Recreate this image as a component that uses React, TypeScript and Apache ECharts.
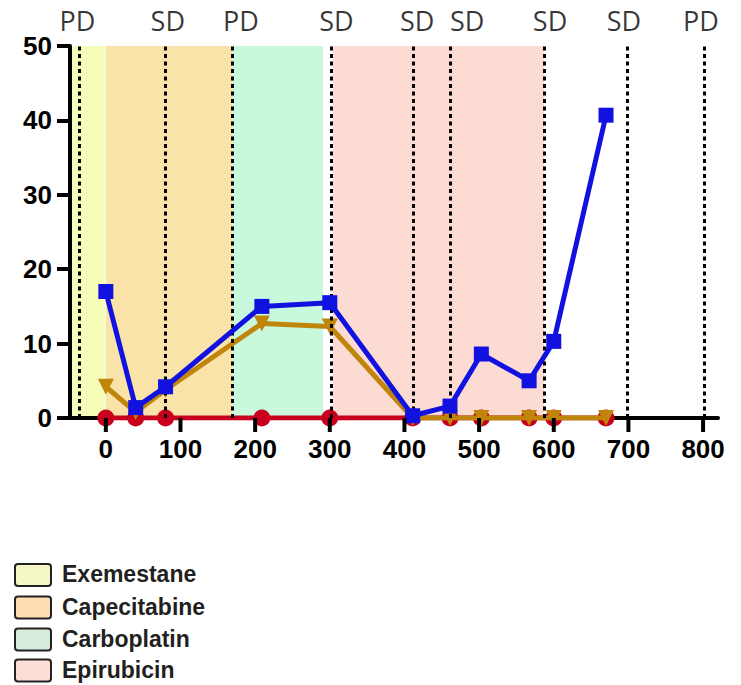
import React, { useEffect, useRef } from "react";
import * as echarts from "echarts";

const days = [0, 40, 80, 209, 300, 411, 461, 503, 567, 600, 670];
const blueValues = [17, 1.4, 4.2, 15, 15.5, 0.3, 1.6, 8.6, 5, 10.3, 40.7];
const goldValues = [4.2, 0.8, 3.8, 12.7, 12.3, 0, 0, 0, 0, 0, 0];
const redValues = [0, 0, 0, 0, 0, 0, 0, 0, 0, 0, 0];

const eventDays = [-35, 80, 170, 302, 412, 462, 587, 699, 801];
const eventNames = ["PD", "SD", "PD", "SD", "SD", "SD", "SD", "SD", "PD"];
const eventLabelDays = [-38, 83, 181, 309, 417, 484, 595, 694, 797];

const treatments = ["Exemestane", "Capecitabine", "Carboplatin", "Epirubicin"];
const treatmentStart = [-48, 0, 170, 304];
const treatmentEnd = [-0.8, 170, 291, 587];
const bandColors = ["#F6FDB9", "#F9E3A8", "#C8F9DC", "#FBDBD2"];
const legendColors = ["#F5F7C6", "#FEDDB4", "#D6EBDC", "#FDDDD8"];

const xTicks = [0, 100, 200, 300, 400, 500, 600, 700, 800];

export default function App() {
  const ref = useRef<HTMLDivElement>(null);
  useEffect(() => {
    if (!ref.current) return;
    const chart = echarts.init(ref.current, undefined, { renderer: "svg" });
    const pts = (vals: number[]) => days.map((d, i) => [d, vals[i]]);
    const legendRowY = [574, 606.5, 638.5, 669.5];
    const graphic: any[] = [];
    treatments.forEach((t, i) => {
      graphic.push({
        type: "rect",
        left: 14,
        top: legendRowY[i] - 11,
        shape: { width: 36, height: 22, r: 3 },
        style: { fill: legendColors[i], stroke: "#222", lineWidth: 2 },
      });
      graphic.push({
        type: "text",
        x: 62,
        y: legendRowY[i],
        style: {
          text: t,
          fill: "#231F20",
          font: "bold 23px 'Liberation Sans', Arial, sans-serif",
          verticalAlign: "middle",
          align: "left",
        },
      });
    });
    const labelFont = {
      color: "#000",
      fontSize: 26,
      fontWeight: "bold" as const,
      fontFamily: "'Liberation Sans', Arial, sans-serif",
    };
    chart.setOption({
      animation: false,
      grid: { left: 70, top: 46, width: 648, height: 372, containLabel: false },
      xAxis: {
        type: "value",
        min: -48,
        max: 820,
        z: 2,
        axisLine: { show: true, onZero: false, lineStyle: { color: "#000", width: 4 } },
        axisTick: { show: false },
        axisLabel: { customValues: xTicks, margin: 18, ...labelFont },
        splitLine: { show: false },
      },
      yAxis: {
        type: "value",
        min: 0,
        max: 50,
        interval: 10,
        z: 2,
        axisLine: { show: true, onZero: false, lineStyle: { color: "#000", width: 4 } },
        axisTick: { show: true, length: 13, lineStyle: { color: "#000", width: 4 } },
        axisLabel: { margin: 18, ...labelFont },
        splitLine: { show: false },
      },
      graphic,
      series: [
        {
          type: "line",
          data: pts(redValues),
          symbol: "none",
          lineStyle: { opacity: 0 },
          silent: true,
          z: 1,
          markArea: {
            silent: true,
            data: treatments.map((t, i) => [
              { xAxis: treatmentStart[i], yAxis: 0, itemStyle: { color: bandColors[i] } },
              { xAxis: treatmentEnd[i], yAxis: 50 },
            ]),
          },
        },
        {
          type: "line",
          data: pts(redValues),
          symbol: "none",
          lineStyle: { opacity: 0 },
          silent: true,
          z: 1,
          markLine: {
            silent: true,
            symbol: "none",
            label: { show: false },
            lineStyle: { color: "#000", width: 3, type: [4, 3.5] },
            data: eventDays.map((d) => ({ xAxis: d })),
          },
        },
        {
          type: "scatter",
          data: eventLabelDays.map((d, i) => ({ value: [d, 50], name: eventNames[i] })),
          symbolSize: 0,
          clip: false,
          silent: true,
          z: 3,
          label: {
            show: true,
            position: "top",
            distance: 12,
            formatter: (p: any) => p.name,
            color: "#000",
            fontSize: 27,
            fontFamily: "'Open Sans', sans-serif",
          },
        },
        {
          type: "line",
          data: pts(redValues),
          symbol: "circle",
          symbolSize: 17,
          itemStyle: { color: "#C8001E" },
          lineStyle: { color: "#C8001E", width: 5 },
          z: 3,
        },
        {
          type: "line",
          data: pts(goldValues),
          symbol: "triangle",
          symbolRotate: 180,
          symbolSize: 16,
          itemStyle: { color: "#C0860B" },
          lineStyle: { color: "#C0860B", width: 5 },
          z: 4,
        },
        {
          type: "line",
          data: pts(blueValues),
          symbol: "rect",
          symbolSize: 15,
          itemStyle: { color: "#1212E0" },
          lineStyle: { color: "#1212E0", width: 5 },
          z: 5,
        },
      ],
    });
    const y0 = chart.convertToPixel({ yAxisIndex: 0 }, 0) as number;
    const tickGraphics = xTicks.map((v) => {
      const px = chart.convertToPixel({ xAxisIndex: 0 }, v) as number;
      return {
        type: "rect",
        x: px - 2,
        y: y0,
        shape: { width: 4, height: 14 },
        style: { fill: "#000" },
        z: 10,
      };
    });
    chart.setOption({ graphic: [...graphic, ...tickGraphics] });
    return () => chart.dispose();
  }, []);
  return (
    <div
      ref={ref}
      style={{ position: "absolute", left: 0, top: 0, width: 741, height: 685, background: "#fff" }}
    />
  );
}
